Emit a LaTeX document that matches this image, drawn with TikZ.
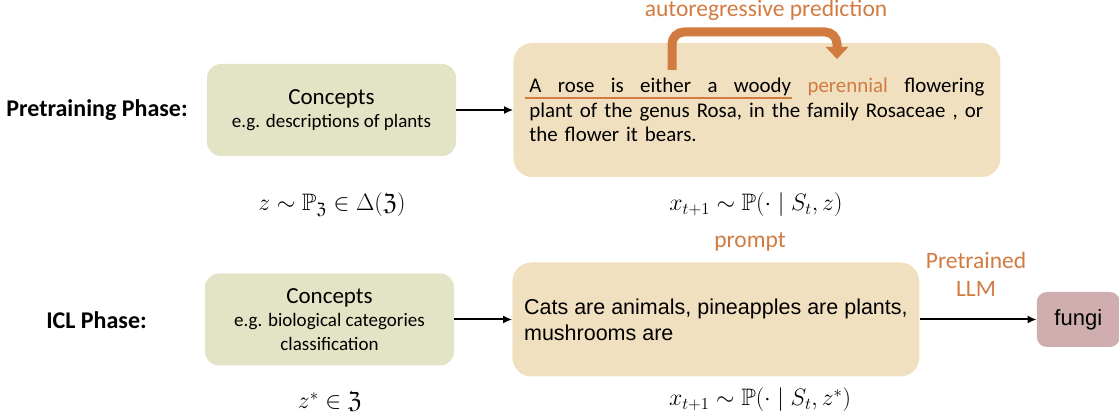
\RequirePackage{fix-cm}
\documentclass[tikz,border=0pt]{standalone}
\usepackage{amsmath,amssymb}
\usepackage[no-math]{fontspec}
\setmainfont{Carlito}
\newfontfamily\arialfont{Liberation Sans}
\usetikzlibrary{arrows.meta,positioning}
\definecolor{conceptgreen}{HTML}{E3E3C5}
\definecolor{sentencesand}{HTML}{F1E0C0}
\definecolor{answerrose}{HTML}{D0AEAF}
\definecolor{accent}{HTML}{D27B40}

\begin{document}
\begin{tikzpicture}[x=1pt,y=-1pt,
  box/.style={rounded corners=14pt,inner sep=0pt,align=center},
  concept/.style={box,fill=conceptgreen,minimum width=249pt,minimum height=92pt,font=\fontsize{19}{23.5}\selectfont},
  sentence/.style={box,fill=sentencesand,rounded corners=19pt},
  answer/.style={box,fill=answerrose,rounded corners=10pt,minimum width=83pt,minimum height=55pt,font=\arialfont\fontsize{22}{26}\selectfont},
  phase/.style={font=\bfseries\fontsize{24}{28}\selectfont},
  note/.style={text=accent,align=center,font=\fontsize{23.5}{28}\selectfont},
  formula/.style={font=\fontsize{23.8}{28}\selectfont},
  arrow/.style={-{Latex[length=9pt,width=8pt]},line width=2pt}]
\useasboundingbox (0,0) rectangle (1119,419);
\node[concept] (c1) at (331.5,110) {{\fontsize{23}{28}\selectfont Concepts}\\e.g. descriptions of plants};
\node[sentence, right=57pt of c1, minimum width=487pt, minimum height=134pt, text width=455pt, align=left, font=\fontsize{20.9}{24.5}\selectfont] (rose)
  {\hbox to 455pt{A\hfill rose\hfill is\hfill either\hfill a\hfill woody\hfill \textcolor{accent}{perennial}\hfill flowering}
   \hbox to 455pt{plant of the genus Rosa, in the family Rosaceae , or\hss}
   \hbox{the flower it bears.}};
\node[concept] (c2) at (329.5,319.5) {{\fontsize{23}{28}\selectfont Concepts}\\e.g. biological categories\\classification};
\node[sentence, right=58pt of c2, minimum width=407pt, minimum height=114pt, align=left, font=\arialfont\fontsize{21.5}{26}\selectfont] (cats)
  {Cats are animals, pineapples are plants,\\mushrooms are};
\node[answer, right=117pt of cats] (fungi) {fungi};
\node[phase] (pre) at (97,110) {Pretraining Phase:};
\node[phase] (icl) at (96.5,320) {ICL Phase:};
\node[formula] (prior) at (332,205) {$z\sim\mathbb{P}_{\mathfrak{Z}}\in\Delta(\mathfrak{Z})$};
\node[formula] (gen) at (756,205) {$x_{t+1}\sim\mathbb{P}(\cdot\mid S_t,z)$};
\node[formula] (task) at (330,402) {$z^*\in\mathfrak{Z}$};
\node[formula] (icl gen) at (760,400) {$x_{t+1}\sim\mathbb{P}(\cdot\mid S_t,z^*)$};
\node[note] (ar) at (766,10) {autoregressive prediction};
\node[note] (pr) at (750,242) {prompt};
\node[note] (llm) at (976,274) {Pretrained\\LLM};
\coordinate (context) at (672,70);
\coordinate (next) at (837,59);
\coordinate (ul start) at (525,98);
\coordinate (ul end) at (792,98);
\draw[arrow] (c1) -- (rose);
\draw[arrow] (c2) -- (cats);
\draw[arrow] (cats) -- (fungi);
\draw[accent,line width=2.5pt] (ul start) -- (ul end);
\draw[accent,line width=9pt,rounded corners=12pt,-{Triangle[length=12pt,width=22pt]}] (context) -- ++(0,-38) -| (next);
\end{tikzpicture}
\end{document}
